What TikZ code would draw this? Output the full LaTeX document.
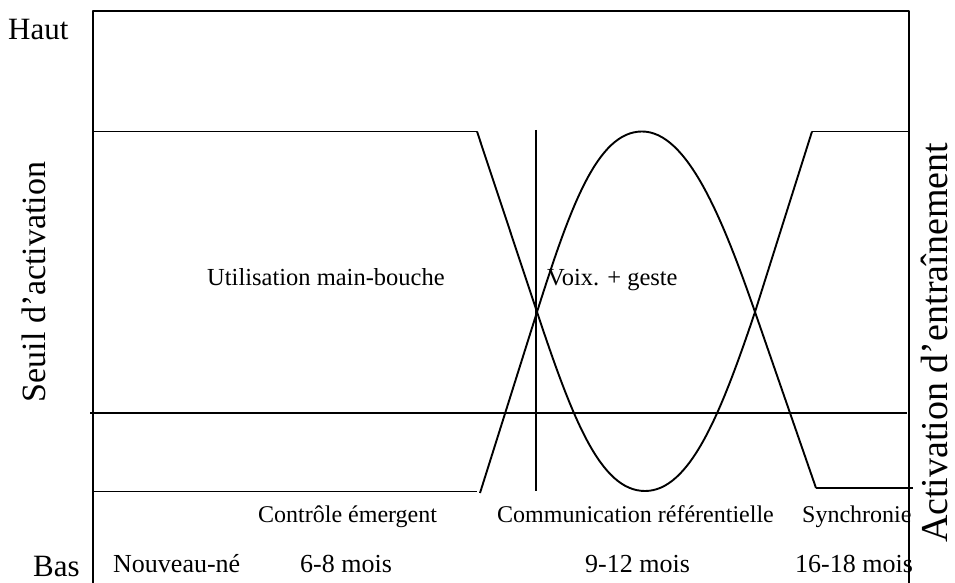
\documentclass[tikz,border=0pt]{standalone}
\usepackage{fontspec}
\setmainfont{Liberation Serif}
\begin{document}
\begin{tikzpicture}[x=1pt,y=1pt,
  ln/.style={line width=1.9pt, line join=round},
  lbl/.style={inner sep=0pt, anchor=base west},
  big/.style={font=\fontsize{31}{35}\selectfont},
  mid/.style={font=\fontsize{24.5}{28}\selectfont},
  row/.style={font=\fontsize{24}{28}\selectfont},
  rowb/.style={font=\fontsize{26}{30}\selectfont},
  side/.style={inner sep=0pt, rotate=90, anchor=base}]
\useasboundingbox (0,0) rectangle (955,583);
% frame
\coordinate (tl) at (93,572);
\coordinate (tr) at (909,572);
\coordinate (bl) at (93,0);
\coordinate (br) at (909,0);
\draw[ln] (bl) -- (tl) -- (tr) -- (br);
% horizontal threshold line
\coordinate (m1) at (90,170);
\coordinate (m2) at (907,170);
\draw[ln] (m1) -- (m2);
% left plateaus
\coordinate (lt1) at (93,451.5);
\coordinate (lt2) at (477,451.5);
\coordinate (lb1) at (93,91.5);
\coordinate (lb2) at (477,91.5);
\draw[ln] (lt1) -- (lt2);
\draw[ln] (lb1) -- (lb2);
% right plateaus
\coordinate (rt1) at (812,451.5);
\coordinate (rt2) at (909,451.5);
\coordinate (rb1) at (816,95);
\coordinate (rb2) at (913,95);
\draw[ln] (rt1) -- (rt2);
\draw[ln] (rb1) -- (rb2);
% vertical line
\coordinate (v1) at (536,453);
\coordinate (v2) at (536,92);
\draw[ln] (v1) -- (v2);
% crossings
\coordinate (c1) at (537,271);
\coordinate (c2) at (755,271);
% valley curve
\draw[ln] (lt2) -- (c1) .. controls (572,166) and (600,92) .. (645,92)
  .. controls (690,92) and (721,170) .. (c2) -- (rt1);
% hill curve
\coordinate (hs) at (480,90);
\draw[ln] (hs) -- (c1) .. controls (570,375) and (597,451.5) .. (642,451.5)
  .. controls (687,451.5) and (722,366) .. (c2) -- (rb1);
% labels
\node[lbl,big] (haut) at (8,543) {Haut};
\node[lbl,big] (bas) at (33,6) {Bas};
\node[lbl,rowb] (nn) at (113,10) {Nouveau-né};
\node[lbl,rowb] (m68) at (300,10) {6-8 mois};
\node[lbl,rowb] (m912) at (585,10) {9-12 mois};
\node[lbl,rowb] (m1618) at (795,10) {16-18 mois};
\node[lbl,row] (ce) at (258,60) {Contrôle émergent};
\node[lbl,row] (cr) at (497,60) {Communication référentielle};
\node[lbl,row] (sy) at (802,60) {Synchronie};
\node[lbl,mid] (um) at (207,297.3) {Utilisation main-bouche};
\node[lbl,mid] (vg) at (547,297.3) {Voix. + geste};
\node[side,font=\fontsize{34}{38}\selectfont] (seuil) at (45,301) {Seuil d’activation};
\node[side,font=\fontsize{38}{42}\selectfont] (act) at (947,240) {Activation d’entraînement};
\end{tikzpicture}
\end{document}
